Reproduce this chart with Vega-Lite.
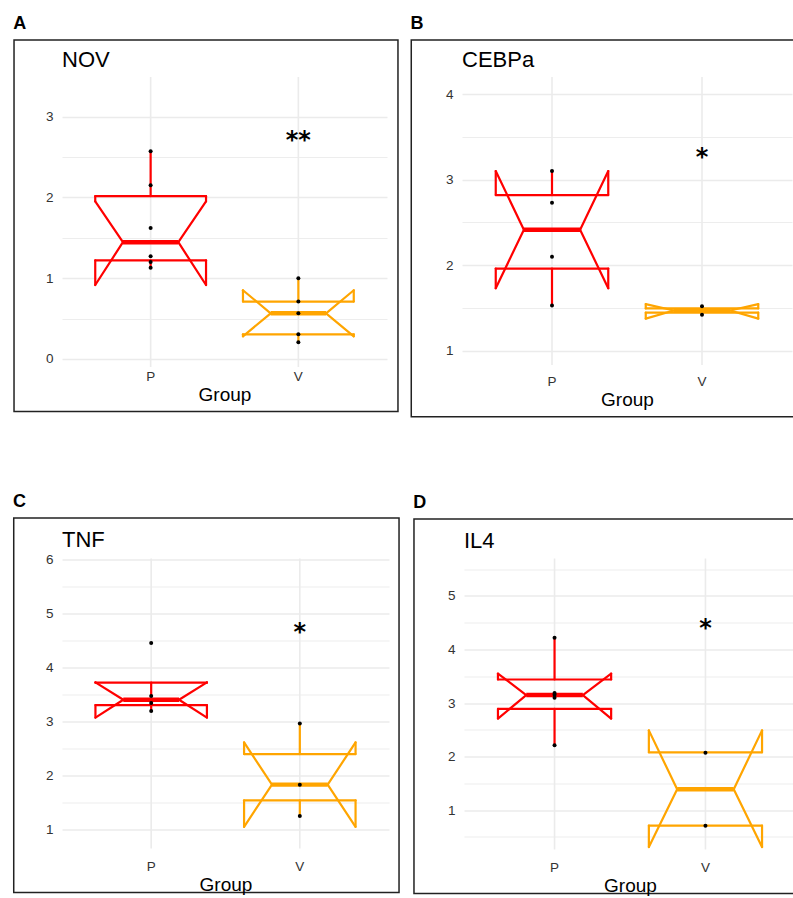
{
"$schema": "https://vega.github.io/schema/vega-lite/v6.json",
"padding": {"left": 12, "top": 14, "right": 0, "bottom": 0},
"datasets": {
"boxes": [
{"panel":"NOV","group":"P","q1":1.22,"med":1.445,"q3":2.015,"nlo":0.915,"nhi":1.95,"wlo":1.13,"whi":2.57},
{"panel":"NOV","group":"V","q1":0.305,"med":0.565,"q3":0.71,"nlo":0.28,"nhi":0.85,"wlo":0.205,"whi":1.0},
{"panel":"CEBPa","group":"P","q1":1.96,"med":2.415,"q3":2.82,"nlo":1.73,"nhi":3.1,"wlo":1.53,"whi":3.1},
{"panel":"CEBPa","group":"V","q1":1.445,"med":1.47,"q3":1.495,"nlo":1.375,"nhi":1.545,"wlo":1.42,"whi":1.52},
{"panel":"TNF","group":"P","q1":3.3,"med":3.4,"q3":3.715,"nlo":3.07,"nhi":3.72,"wlo":3.19,"whi":3.47},
{"panel":"TNF","group":"V","q1":1.54,"med":1.83,"q3":2.395,"nlo":1.05,"nhi":2.61,"wlo":1.25,"whi":2.96},
{"panel":"IL4","group":"P","q1":2.89,"med":3.15,"q3":3.44,"nlo":2.71,"nhi":3.55,"wlo":2.21,"whi":4.22},
{"panel":"IL4","group":"V","q1":0.71,"med":1.39,"q3":2.08,"nlo":0.31,"nhi":2.49,"wlo":0.71,"whi":2.08}
],
"points": [
{"panel":"NOV","group":"P","value":2.57},{"panel":"NOV","group":"P","value":2.15},{"panel":"NOV","group":"P","value":1.62},{"panel":"NOV","group":"P","value":1.27},{"panel":"NOV","group":"P","value":1.2},{"panel":"NOV","group":"P","value":1.13},
{"panel":"NOV","group":"V","value":1.0},{"panel":"NOV","group":"V","value":0.71},{"panel":"NOV","group":"V","value":0.565},{"panel":"NOV","group":"V","value":0.305},{"panel":"NOV","group":"V","value":0.205},
{"panel":"CEBPa","group":"P","value":3.1},{"panel":"CEBPa","group":"P","value":2.73},{"panel":"CEBPa","group":"P","value":2.1},{"panel":"CEBPa","group":"P","value":1.53},
{"panel":"CEBPa","group":"V","value":1.52},{"panel":"CEBPa","group":"V","value":1.42},
{"panel":"TNF","group":"P","value":4.45},{"panel":"TNF","group":"P","value":3.47},{"panel":"TNF","group":"P","value":3.34},{"panel":"TNF","group":"P","value":3.19},
{"panel":"TNF","group":"V","value":2.96},{"panel":"TNF","group":"V","value":1.83},{"panel":"TNF","group":"V","value":1.25},
{"panel":"IL4","group":"P","value":4.22},{"panel":"IL4","group":"P","value":3.19},{"panel":"IL4","group":"P","value":3.155},{"panel":"IL4","group":"P","value":3.1},{"panel":"IL4","group":"P","value":2.21},
{"panel":"IL4","group":"V","value":2.07},{"panel":"IL4","group":"V","value":0.71}
],
"stars": [
{"panel":"NOV","group":"V","label":"**","value":2.79},
{"panel":"CEBPa","group":"V","label":"*","value":3.33},
{"panel":"TNF","group":"V","label":"*","value":4.77},
{"panel":"IL4","group":"V","label":"*","value":4.52}
]
},
"spacing": 74.5,
"vconcat": [
{"hconcat": [
{"title": {"text": "A", "fontSize": 18, "fontWeight": "bold", "frame": "bounds", "offset": 6.25},
 "vconcat": [
 {"width": 325, "height": 290,
  "title": {"text": "NOV", "offset": -32.5},
  "data": {"name": "boxes"},
  "transform": [{"filter": "datum.panel === 'NOV'"}],
  "encoding": {"color": {"field": "group", "type": "nominal", "scale": {"domain": ["P","V"], "range": ["#FF0000","#FFA500"]}, "legend": null}},
  "layer": [
   {"data": {"values": [{}]}, "mark": {"type": "rect", "filled": false, "strokeWidth": 1.5},
    "encoding": {
     "x": {"datum": "P", "type": "nominal", "bandPosition": -0.733, "scale": {"type": "band", "domain": ["P","V"], "paddingInner": 0.25, "paddingOuter": 0.225}, "axis": {"title": "Group", "grid": false, "bandPosition": 0.5, "labelPadding": 2, "titlePadding": 3}},
     "x2": {"datum": "V", "bandPosition": 1.399},
     "y": {"datum": 3.948, "type": "quantitative", "scale": {"domain": [-0.1, 3.49], "nice": false, "zero": false}, "axis": {"title": null, "grid": true, "tickCount": 30, "labelOverlap": false, "values": [0,0.5,1,1.5,2,2.5,3], "labelExpr": "datum.value % 1 === 0 ? format(datum.value, 'd') : ''", "gridWidth": {"condition": {"test": "datum.value % 1 !== 0", "value": 0.9}, "value": 1.6}, "labelPadding": 9}},
     "y2": {"datum": -0.651},
     "color": {"value": "#222222"}}},
   {"mark": {"type": "rule", "strokeWidth": 1.6}, "encoding": {"x": {"field": "group", "type": "nominal", "bandPosition": 0.5}, "y": {"datum": 3.49, "type": "quantitative"}, "y2": {"datum": -0.1}, "color": {"value": "#EBEBEB"}}},
   {"mark": {"type": "rule", "strokeWidth": 2.2, "strokeCap": "round"}, "encoding": {"x": {"field": "group", "type": "nominal", "bandPosition": 0}, "y": {"field": "q3", "type": "quantitative"}, "y2": {"field": "nhi"}}},
   {"mark": {"type": "rule", "strokeWidth": 2.2, "strokeCap": "round"}, "encoding": {"x": {"field": "group", "type": "nominal", "bandPosition": 0}, "y": {"field": "nlo", "type": "quantitative"}, "y2": {"field": "q1"}}},
   {"mark": {"type": "rule", "strokeWidth": 2.2, "strokeCap": "round"}, "encoding": {"x": {"field": "group", "type": "nominal", "bandPosition": 1}, "y": {"field": "q3", "type": "quantitative"}, "y2": {"field": "nhi"}}},
   {"mark": {"type": "rule", "strokeWidth": 2.2, "strokeCap": "round"}, "encoding": {"x": {"field": "group", "type": "nominal", "bandPosition": 1}, "y": {"field": "nlo", "type": "quantitative"}, "y2": {"field": "q1"}}},
   {"mark": {"type": "rule", "strokeWidth": 2.2, "strokeCap": "round"}, "encoding": {"x": {"field": "group", "type": "nominal", "bandPosition": 0}, "x2": {"field": "group", "bandPosition": 1}, "y": {"field": "q3", "type": "quantitative"}}},
   {"mark": {"type": "rule", "strokeWidth": 2.2, "strokeCap": "round"}, "encoding": {"x": {"field": "group", "type": "nominal", "bandPosition": 0}, "x2": {"field": "group", "bandPosition": 1}, "y": {"field": "q1", "type": "quantitative"}}},
   {"mark": {"type": "rule", "strokeWidth": 2.2, "strokeCap": "round"}, "encoding": {"x": {"field": "group", "type": "nominal", "bandPosition": 0}, "x2": {"field": "group", "bandPosition": 0.25}, "y": {"field": "nhi", "type": "quantitative"}, "y2": {"field": "med"}}},
   {"mark": {"type": "rule", "strokeWidth": 2.2, "strokeCap": "round"}, "encoding": {"x": {"field": "group", "type": "nominal", "bandPosition": 0.25}, "x2": {"field": "group", "bandPosition": 0}, "y": {"field": "med", "type": "quantitative"}, "y2": {"field": "nlo"}}},
   {"mark": {"type": "rule", "strokeWidth": 2.2, "strokeCap": "round"}, "encoding": {"x": {"field": "group", "type": "nominal", "bandPosition": 1}, "x2": {"field": "group", "bandPosition": 0.75}, "y": {"field": "nhi", "type": "quantitative"}, "y2": {"field": "med"}}},
   {"mark": {"type": "rule", "strokeWidth": 2.2, "strokeCap": "round"}, "encoding": {"x": {"field": "group", "type": "nominal", "bandPosition": 0.75}, "x2": {"field": "group", "bandPosition": 1}, "y": {"field": "med", "type": "quantitative"}, "y2": {"field": "nlo"}}},
   {"mark": {"type": "rule", "strokeWidth": 4.4, "strokeCap": "butt"}, "encoding": {"x": {"field": "group", "type": "nominal", "bandPosition": 0.25}, "x2": {"field": "group", "bandPosition": 0.75}, "y": {"field": "med", "type": "quantitative"}}},
   {"mark": {"type": "rule", "strokeWidth": 2.2, "strokeCap": "round"}, "encoding": {"x": {"field": "group", "type": "nominal", "bandPosition": 0.5}, "y": {"field": "q3", "type": "quantitative"}, "y2": {"field": "whi"}}},
   {"mark": {"type": "rule", "strokeWidth": 2.2, "strokeCap": "round"}, "encoding": {"x": {"field": "group", "type": "nominal", "bandPosition": 0.5}, "y": {"field": "q1", "type": "quantitative"}, "y2": {"field": "wlo"}}},
   {"data": {"name": "points"}, "transform": [{"filter": "datum.panel === 'NOV'"}], "mark": {"type": "circle", "size": 16, "opacity": 1, "strokeWidth": 0}, "encoding": {"x": {"field": "group", "type": "nominal", "bandPosition": 0.5}, "y": {"field": "value", "type": "quantitative"}, "color": {"value": "#000000"}}},
   {"data": {"name": "stars"}, "transform": [{"filter": "datum.panel === 'NOV'"}], "mark": {"type": "text", "font": "DejaVu Sans", "fontSize": 24, "fontWeight": "bold", "baseline": "middle", "dy": 7}, "encoding": {"x": {"field": "group", "type": "nominal", "bandPosition": 0.5}, "y": {"field": "value", "type": "quantitative"}, "text": {"field": "label"}, "color": {"value": "#000000"}}}
  ]}
 ]},
{"title": {"text": "B", "fontSize": 18, "fontWeight": "bold", "frame": "bounds", "offset": 6.25},
 "vconcat": [
 {"width": 330, "height": 288,
  "title": {"text": "CEBPa", "offset": -33},
  "data": {"name": "boxes"},
  "transform": [{"filter": "datum.panel === 'CEBPa'"}],
  "encoding": {"color": {"field": "group", "type": "nominal", "scale": {"domain": ["P","V"], "range": ["#FF0000","#FFA500"]}, "legend": null}},
  "layer": [
   {"data": {"values": [{}]}, "mark": {"type": "rect", "filled": false, "strokeWidth": 1.5},
    "encoding": {
     "x": {"datum": "P", "type": "nominal", "bandPosition": -0.751, "scale": {"type": "band", "domain": ["P","V"], "paddingInner": 0.25, "paddingOuter": 0.225}, "axis": {"title": "Group", "grid": false, "bandPosition": 0.5, "labelPadding": 9, "titlePadding": 3}},
     "x2": {"datum": "V", "bandPosition": 1.407},
     "y": {"datum": 4.633, "type": "quantitative", "scale": {"domain": [0.833, 4.2], "nice": false, "zero": false}, "axis": {"title": null, "grid": true, "tickCount": 30, "labelOverlap": false, "values": [1,1.5,2,2.5,3,3.5,4], "labelExpr": "datum.value % 1 === 0 ? format(datum.value, 'd') : ''", "gridWidth": {"condition": {"test": "datum.value % 1 !== 0", "value": 0.9}, "value": 1.6}, "labelPadding": 9}},
     "y2": {"datum": 0.229},
     "color": {"value": "#222222"}}},
   {"mark": {"type": "rule", "strokeWidth": 1.6}, "encoding": {"x": {"field": "group", "type": "nominal", "bandPosition": 0.5}, "y": {"datum": 4.2, "type": "quantitative"}, "y2": {"datum": 0.833}, "color": {"value": "#EBEBEB"}}},
   {"mark": {"type": "rule", "strokeWidth": 2.2, "strokeCap": "round"}, "encoding": {"x": {"field": "group", "type": "nominal", "bandPosition": 0}, "y": {"field": "q3", "type": "quantitative"}, "y2": {"field": "nhi"}}},
   {"mark": {"type": "rule", "strokeWidth": 2.2, "strokeCap": "round"}, "encoding": {"x": {"field": "group", "type": "nominal", "bandPosition": 0}, "y": {"field": "nlo", "type": "quantitative"}, "y2": {"field": "q1"}}},
   {"mark": {"type": "rule", "strokeWidth": 2.2, "strokeCap": "round"}, "encoding": {"x": {"field": "group", "type": "nominal", "bandPosition": 1}, "y": {"field": "q3", "type": "quantitative"}, "y2": {"field": "nhi"}}},
   {"mark": {"type": "rule", "strokeWidth": 2.2, "strokeCap": "round"}, "encoding": {"x": {"field": "group", "type": "nominal", "bandPosition": 1}, "y": {"field": "nlo", "type": "quantitative"}, "y2": {"field": "q1"}}},
   {"mark": {"type": "rule", "strokeWidth": 2.2, "strokeCap": "round"}, "encoding": {"x": {"field": "group", "type": "nominal", "bandPosition": 0}, "x2": {"field": "group", "bandPosition": 1}, "y": {"field": "q3", "type": "quantitative"}}},
   {"mark": {"type": "rule", "strokeWidth": 2.2, "strokeCap": "round"}, "encoding": {"x": {"field": "group", "type": "nominal", "bandPosition": 0}, "x2": {"field": "group", "bandPosition": 1}, "y": {"field": "q1", "type": "quantitative"}}},
   {"mark": {"type": "rule", "strokeWidth": 2.2, "strokeCap": "round"}, "encoding": {"x": {"field": "group", "type": "nominal", "bandPosition": 0}, "x2": {"field": "group", "bandPosition": 0.25}, "y": {"field": "nhi", "type": "quantitative"}, "y2": {"field": "med"}}},
   {"mark": {"type": "rule", "strokeWidth": 2.2, "strokeCap": "round"}, "encoding": {"x": {"field": "group", "type": "nominal", "bandPosition": 0.25}, "x2": {"field": "group", "bandPosition": 0}, "y": {"field": "med", "type": "quantitative"}, "y2": {"field": "nlo"}}},
   {"mark": {"type": "rule", "strokeWidth": 2.2, "strokeCap": "round"}, "encoding": {"x": {"field": "group", "type": "nominal", "bandPosition": 1}, "x2": {"field": "group", "bandPosition": 0.75}, "y": {"field": "nhi", "type": "quantitative"}, "y2": {"field": "med"}}},
   {"mark": {"type": "rule", "strokeWidth": 2.2, "strokeCap": "round"}, "encoding": {"x": {"field": "group", "type": "nominal", "bandPosition": 0.75}, "x2": {"field": "group", "bandPosition": 1}, "y": {"field": "med", "type": "quantitative"}, "y2": {"field": "nlo"}}},
   {"mark": {"type": "rule", "strokeWidth": 4.4, "strokeCap": "butt"}, "encoding": {"x": {"field": "group", "type": "nominal", "bandPosition": 0.25}, "x2": {"field": "group", "bandPosition": 0.75}, "y": {"field": "med", "type": "quantitative"}}},
   {"mark": {"type": "rule", "strokeWidth": 2.2, "strokeCap": "round"}, "encoding": {"x": {"field": "group", "type": "nominal", "bandPosition": 0.5}, "y": {"field": "q3", "type": "quantitative"}, "y2": {"field": "whi"}}},
   {"mark": {"type": "rule", "strokeWidth": 2.2, "strokeCap": "round"}, "encoding": {"x": {"field": "group", "type": "nominal", "bandPosition": 0.5}, "y": {"field": "q1", "type": "quantitative"}, "y2": {"field": "wlo"}}},
   {"data": {"name": "points"}, "transform": [{"filter": "datum.panel === 'CEBPa'"}], "mark": {"type": "circle", "size": 16, "opacity": 1, "strokeWidth": 0}, "encoding": {"x": {"field": "group", "type": "nominal", "bandPosition": 0.5}, "y": {"field": "value", "type": "quantitative"}, "color": {"value": "#000000"}}},
   {"data": {"name": "stars"}, "transform": [{"filter": "datum.panel === 'CEBPa'"}], "mark": {"type": "text", "font": "DejaVu Sans", "fontSize": 24, "fontWeight": "bold", "baseline": "middle", "dy": 7}, "encoding": {"x": {"field": "group", "type": "nominal", "bandPosition": 0.5}, "y": {"field": "value", "type": "quantitative"}, "text": {"field": "label"}, "color": {"value": "#000000"}}}
  ]}
 ]}
], "spacing": 11},
{"hconcat": [
{"title": {"text": "C", "fontSize": 18, "fontWeight": "bold", "frame": "bounds", "offset": 6},
 "vconcat": [
 {"width": 327, "height": 290,
  "title": {"text": "TNF", "offset": -34.7},
  "data": {"name": "boxes"},
  "transform": [{"filter": "datum.panel === 'TNF'"}],
  "encoding": {"color": {"field": "group", "type": "nominal", "scale": {"domain": ["P","V"], "range": ["#FF0000","#FFA500"]}, "legend": null}},
  "layer": [
   {"data": {"values": [{}]}, "mark": {"type": "rect", "filled": false, "strokeWidth": 1.5},
    "encoding": {
     "x": {"datum": "P", "type": "nominal", "bandPosition": -0.733, "scale": {"type": "band", "domain": ["P","V"], "paddingInner": 0.25, "paddingOuter": 0.225}, "axis": {"title": "Group", "grid": false, "bandPosition": 0.5, "labelPadding": 10.5, "titlePadding": 3}},
     "x2": {"datum": "V", "bandPosition": 1.39},
     "y": {"datum": 6.76, "type": "quantitative", "scale": {"domain": [0.65, 6.01], "nice": false, "zero": false}, "axis": {"title": null, "grid": true, "tickCount": 30, "labelOverlap": false, "values": [1,1.5,2,2.5,3,3.5,4,4.5,5,5.5,6], "labelExpr": "datum.value % 1 === 0 ? format(datum.value, 'd') : ''", "gridWidth": {"condition": {"test": "datum.value % 1 !== 0", "value": 0.9}, "value": 1.6}, "labelPadding": 9}},
     "y2": {"datum": -0.163},
     "color": {"value": "#222222"}}},
   {"mark": {"type": "rule", "strokeWidth": 1.6}, "encoding": {"x": {"field": "group", "type": "nominal", "bandPosition": 0.5}, "y": {"datum": 6.01, "type": "quantitative"}, "y2": {"datum": 0.65}, "color": {"value": "#EBEBEB"}}},
   {"mark": {"type": "rule", "strokeWidth": 2.2, "strokeCap": "round"}, "encoding": {"x": {"field": "group", "type": "nominal", "bandPosition": 0}, "y": {"field": "q3", "type": "quantitative"}, "y2": {"field": "nhi"}}},
   {"mark": {"type": "rule", "strokeWidth": 2.2, "strokeCap": "round"}, "encoding": {"x": {"field": "group", "type": "nominal", "bandPosition": 0}, "y": {"field": "nlo", "type": "quantitative"}, "y2": {"field": "q1"}}},
   {"mark": {"type": "rule", "strokeWidth": 2.2, "strokeCap": "round"}, "encoding": {"x": {"field": "group", "type": "nominal", "bandPosition": 1}, "y": {"field": "q3", "type": "quantitative"}, "y2": {"field": "nhi"}}},
   {"mark": {"type": "rule", "strokeWidth": 2.2, "strokeCap": "round"}, "encoding": {"x": {"field": "group", "type": "nominal", "bandPosition": 1}, "y": {"field": "nlo", "type": "quantitative"}, "y2": {"field": "q1"}}},
   {"mark": {"type": "rule", "strokeWidth": 2.2, "strokeCap": "round"}, "encoding": {"x": {"field": "group", "type": "nominal", "bandPosition": 0}, "x2": {"field": "group", "bandPosition": 1}, "y": {"field": "q3", "type": "quantitative"}}},
   {"mark": {"type": "rule", "strokeWidth": 2.2, "strokeCap": "round"}, "encoding": {"x": {"field": "group", "type": "nominal", "bandPosition": 0}, "x2": {"field": "group", "bandPosition": 1}, "y": {"field": "q1", "type": "quantitative"}}},
   {"mark": {"type": "rule", "strokeWidth": 2.2, "strokeCap": "round"}, "encoding": {"x": {"field": "group", "type": "nominal", "bandPosition": 0}, "x2": {"field": "group", "bandPosition": 0.25}, "y": {"field": "nhi", "type": "quantitative"}, "y2": {"field": "med"}}},
   {"mark": {"type": "rule", "strokeWidth": 2.2, "strokeCap": "round"}, "encoding": {"x": {"field": "group", "type": "nominal", "bandPosition": 0.25}, "x2": {"field": "group", "bandPosition": 0}, "y": {"field": "med", "type": "quantitative"}, "y2": {"field": "nlo"}}},
   {"mark": {"type": "rule", "strokeWidth": 2.2, "strokeCap": "round"}, "encoding": {"x": {"field": "group", "type": "nominal", "bandPosition": 1}, "x2": {"field": "group", "bandPosition": 0.75}, "y": {"field": "nhi", "type": "quantitative"}, "y2": {"field": "med"}}},
   {"mark": {"type": "rule", "strokeWidth": 2.2, "strokeCap": "round"}, "encoding": {"x": {"field": "group", "type": "nominal", "bandPosition": 0.75}, "x2": {"field": "group", "bandPosition": 1}, "y": {"field": "med", "type": "quantitative"}, "y2": {"field": "nlo"}}},
   {"mark": {"type": "rule", "strokeWidth": 4.4, "strokeCap": "butt"}, "encoding": {"x": {"field": "group", "type": "nominal", "bandPosition": 0.25}, "x2": {"field": "group", "bandPosition": 0.75}, "y": {"field": "med", "type": "quantitative"}}},
   {"mark": {"type": "rule", "strokeWidth": 2.2, "strokeCap": "round"}, "encoding": {"x": {"field": "group", "type": "nominal", "bandPosition": 0.5}, "y": {"field": "q3", "type": "quantitative"}, "y2": {"field": "whi"}}},
   {"mark": {"type": "rule", "strokeWidth": 2.2, "strokeCap": "round"}, "encoding": {"x": {"field": "group", "type": "nominal", "bandPosition": 0.5}, "y": {"field": "q1", "type": "quantitative"}, "y2": {"field": "wlo"}}},
   {"data": {"name": "points"}, "transform": [{"filter": "datum.panel === 'TNF'"}], "mark": {"type": "circle", "size": 16, "opacity": 1, "strokeWidth": 0}, "encoding": {"x": {"field": "group", "type": "nominal", "bandPosition": 0.5}, "y": {"field": "value", "type": "quantitative"}, "color": {"value": "#000000"}}},
   {"data": {"name": "stars"}, "transform": [{"filter": "datum.panel === 'TNF'"}], "mark": {"type": "text", "font": "DejaVu Sans", "fontSize": 24, "fontWeight": "bold", "baseline": "middle", "dy": 7}, "encoding": {"x": {"field": "group", "type": "nominal", "bandPosition": 0.5}, "y": {"field": "value", "type": "quantitative"}, "text": {"field": "label"}, "color": {"value": "#000000"}}}
  ]}
 ]},
{"title": {"text": "D", "fontSize": 18, "fontWeight": "bold", "frame": "bounds", "offset": 6},
 "vconcat": [
 {"width": 332, "height": 291,
  "title": {"text": "IL4", "offset": -34.7},
  "data": {"name": "boxes"},
  "transform": [{"filter": "datum.panel === 'IL4'"}],
  "encoding": {"color": {"field": "group", "type": "nominal", "scale": {"domain": ["P","V"], "range": ["#FF0000","#FFA500"]}, "legend": null}},
  "layer": [
   {"data": {"values": [{}]}, "mark": {"type": "rect", "filled": false, "strokeWidth": 1.5},
    "encoding": {
     "x": {"datum": "P", "type": "nominal", "bandPosition": -0.742, "scale": {"type": "band", "domain": ["P","V"], "paddingInner": 0.25, "paddingOuter": 0.225}, "axis": {"title": "Group", "grid": false, "bandPosition": 0.5, "labelPadding": 10.5, "titlePadding": 3}},
     "x2": {"datum": "V", "bandPosition": 1.397},
     "y": {"datum": 6.44, "type": "quantitative", "scale": {"domain": [0.265, 5.7], "nice": false, "zero": false}, "axis": {"title": null, "grid": true, "tickCount": 30, "labelOverlap": false, "values": [0.5,1,1.5,2,2.5,3,3.5,4,4.5,5,5.5], "labelExpr": "datum.value % 1 === 0 ? format(datum.value, 'd') : ''", "gridWidth": {"condition": {"test": "datum.value % 1 !== 0", "value": 0.9}, "value": 1.6}, "labelPadding": 9}},
     "y2": {"datum": -0.557},
     "color": {"value": "#222222"}}},
   {"mark": {"type": "rule", "strokeWidth": 1.6}, "encoding": {"x": {"field": "group", "type": "nominal", "bandPosition": 0.5}, "y": {"datum": 5.7, "type": "quantitative"}, "y2": {"datum": 0.265}, "color": {"value": "#EBEBEB"}}},
   {"mark": {"type": "rule", "strokeWidth": 2.2, "strokeCap": "round"}, "encoding": {"x": {"field": "group", "type": "nominal", "bandPosition": 0}, "y": {"field": "q3", "type": "quantitative"}, "y2": {"field": "nhi"}}},
   {"mark": {"type": "rule", "strokeWidth": 2.2, "strokeCap": "round"}, "encoding": {"x": {"field": "group", "type": "nominal", "bandPosition": 0}, "y": {"field": "nlo", "type": "quantitative"}, "y2": {"field": "q1"}}},
   {"mark": {"type": "rule", "strokeWidth": 2.2, "strokeCap": "round"}, "encoding": {"x": {"field": "group", "type": "nominal", "bandPosition": 1}, "y": {"field": "q3", "type": "quantitative"}, "y2": {"field": "nhi"}}},
   {"mark": {"type": "rule", "strokeWidth": 2.2, "strokeCap": "round"}, "encoding": {"x": {"field": "group", "type": "nominal", "bandPosition": 1}, "y": {"field": "nlo", "type": "quantitative"}, "y2": {"field": "q1"}}},
   {"mark": {"type": "rule", "strokeWidth": 2.2, "strokeCap": "round"}, "encoding": {"x": {"field": "group", "type": "nominal", "bandPosition": 0}, "x2": {"field": "group", "bandPosition": 1}, "y": {"field": "q3", "type": "quantitative"}}},
   {"mark": {"type": "rule", "strokeWidth": 2.2, "strokeCap": "round"}, "encoding": {"x": {"field": "group", "type": "nominal", "bandPosition": 0}, "x2": {"field": "group", "bandPosition": 1}, "y": {"field": "q1", "type": "quantitative"}}},
   {"mark": {"type": "rule", "strokeWidth": 2.2, "strokeCap": "round"}, "encoding": {"x": {"field": "group", "type": "nominal", "bandPosition": 0}, "x2": {"field": "group", "bandPosition": 0.25}, "y": {"field": "nhi", "type": "quantitative"}, "y2": {"field": "med"}}},
   {"mark": {"type": "rule", "strokeWidth": 2.2, "strokeCap": "round"}, "encoding": {"x": {"field": "group", "type": "nominal", "bandPosition": 0.25}, "x2": {"field": "group", "bandPosition": 0}, "y": {"field": "med", "type": "quantitative"}, "y2": {"field": "nlo"}}},
   {"mark": {"type": "rule", "strokeWidth": 2.2, "strokeCap": "round"}, "encoding": {"x": {"field": "group", "type": "nominal", "bandPosition": 1}, "x2": {"field": "group", "bandPosition": 0.75}, "y": {"field": "nhi", "type": "quantitative"}, "y2": {"field": "med"}}},
   {"mark": {"type": "rule", "strokeWidth": 2.2, "strokeCap": "round"}, "encoding": {"x": {"field": "group", "type": "nominal", "bandPosition": 0.75}, "x2": {"field": "group", "bandPosition": 1}, "y": {"field": "med", "type": "quantitative"}, "y2": {"field": "nlo"}}},
   {"mark": {"type": "rule", "strokeWidth": 4.4, "strokeCap": "butt"}, "encoding": {"x": {"field": "group", "type": "nominal", "bandPosition": 0.25}, "x2": {"field": "group", "bandPosition": 0.75}, "y": {"field": "med", "type": "quantitative"}}},
   {"mark": {"type": "rule", "strokeWidth": 2.2, "strokeCap": "round"}, "encoding": {"x": {"field": "group", "type": "nominal", "bandPosition": 0.5}, "y": {"field": "q3", "type": "quantitative"}, "y2": {"field": "whi"}}},
   {"mark": {"type": "rule", "strokeWidth": 2.2, "strokeCap": "round"}, "encoding": {"x": {"field": "group", "type": "nominal", "bandPosition": 0.5}, "y": {"field": "q1", "type": "quantitative"}, "y2": {"field": "wlo"}}},
   {"data": {"name": "points"}, "transform": [{"filter": "datum.panel === 'IL4'"}], "mark": {"type": "circle", "size": 16, "opacity": 1, "strokeWidth": 0}, "encoding": {"x": {"field": "group", "type": "nominal", "bandPosition": 0.5}, "y": {"field": "value", "type": "quantitative"}, "color": {"value": "#000000"}}},
   {"data": {"name": "stars"}, "transform": [{"filter": "datum.panel === 'IL4'"}], "mark": {"type": "text", "font": "DejaVu Sans", "fontSize": 24, "fontWeight": "bold", "baseline": "middle", "dy": 7}, "encoding": {"x": {"field": "group", "type": "nominal", "bandPosition": 0.5}, "y": {"field": "value", "type": "quantitative"}, "text": {"field": "label"}, "color": {"value": "#000000"}}}
  ]}
 ]}
], "spacing": 13}
],
"config": {
 "view": {"stroke": null},
 "font": "Liberation Sans",
 "title": {"font": "Liberation Sans", "fontSize": 22, "fontWeight": "normal", "anchor": "start", "frame": "group", "baseline": "alphabetic", "color": "#000000"},
 "axis": {"labelFont": "Liberation Sans", "labelFontSize": 13.5, "labelColor": "#333333", "ticks": false, "domain": false, "gridColor": "#EBEBEB", "gridWidth": 1.6, "titleFont": "Liberation Sans", "titleFontWeight": "normal", "titleFontSize": 19, "titleColor": "#000000"},
 "axisX": {"labelAngle": 0}
}
}
